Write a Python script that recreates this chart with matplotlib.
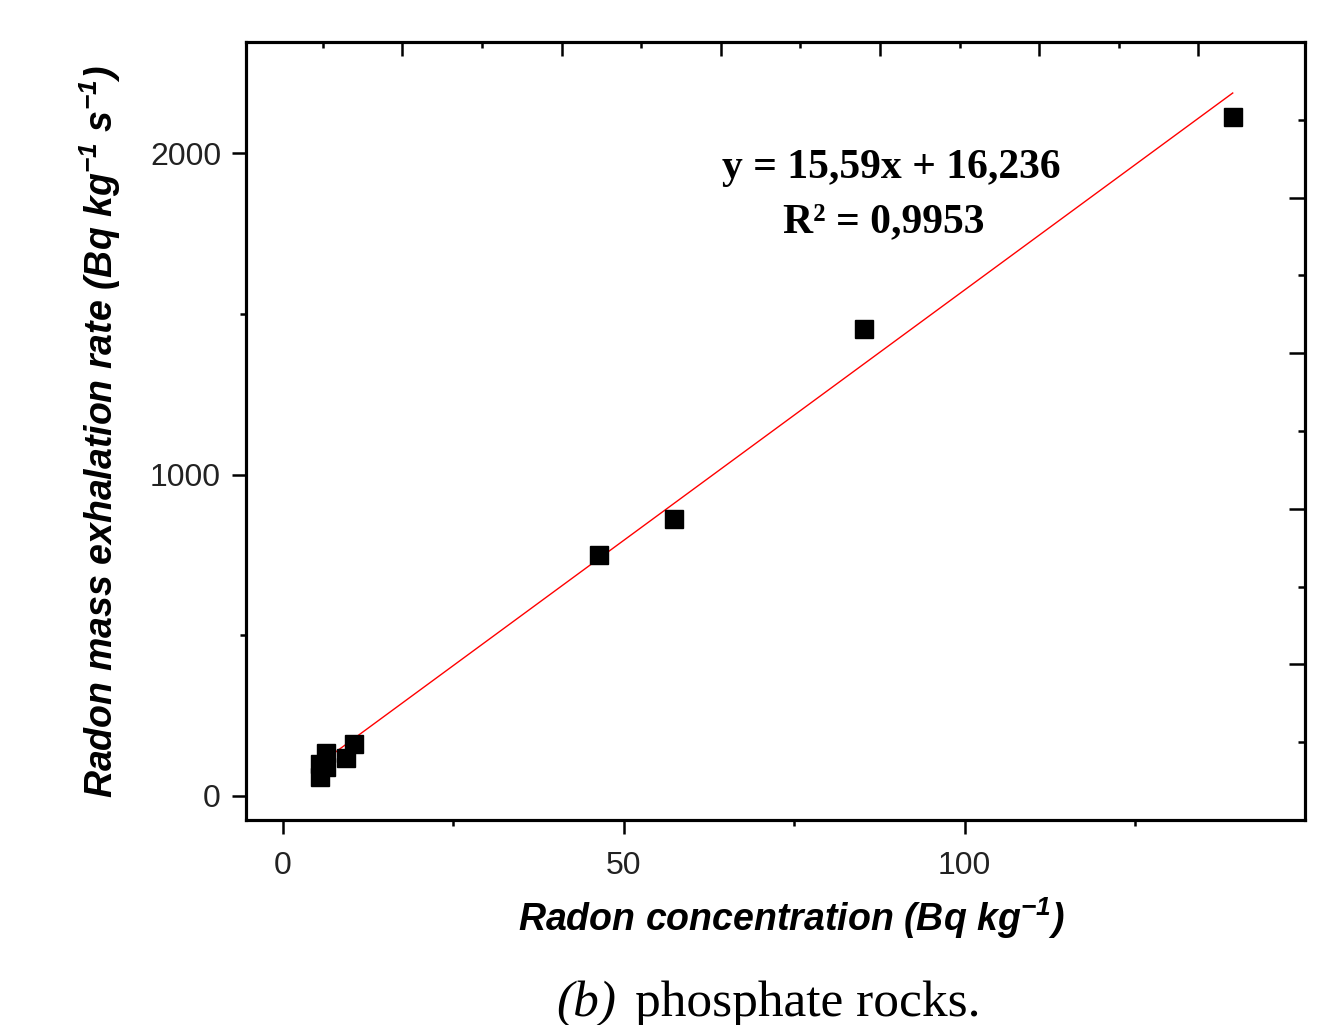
import numpy as np
import matplotlib
matplotlib.use("Agg")
import matplotlib.pyplot as plt

# data
conc = [5.4, 5.4, 6.3, 6.3, 9.3, 10.4, 46.3, 57.3, 85.3, 139.3]
exhal = [59, 100, 89, 133, 119, 162, 750, 862, 1453, 2113]
slope = 15.59
intercept = 16.236
eq_text = "y = 15,59x + 16,236"
r2_text = "R\u00b2 = 0,9953"
x_major = [0, 50, 100]
x_minor = [25, 75, 125]
y_major = [0, 1000, 2000]
y_minor = [500, 1500]

plt.rcParams["mathtext.fontset"] = "custom"
plt.rcParams["mathtext.rm"] = "Liberation Sans:bold:italic"
plt.rcParams["mathtext.it"] = "Liberation Sans:bold:italic"
plt.rcParams["mathtext.bf"] = "Liberation Sans:bold:italic"

W, H = 1343, 1025
fig = plt.figure(figsize=(W / 100, H / 100), dpi=100)
ax = fig.add_axes([246 / W, 1 - 820 / H, (1305 - 246) / W, (820 - 42) / H])

# fit line over data range
xf = np.array([min(conc), max(conc)])
ax.plot(xf, slope * xf + intercept, color="red", lw=1.0, zorder=2)
ax.plot(conc, exhal, "s", color="black", ms=12.5, mec="black", zorder=3)

ax.set_xlim(-5.4, 149.9)
ax.set_ylim(-74.7, 2346.7)

ax.set_xticks(x_major)
ax.set_xticks(x_minor, minor=True)
ax.set_yticks(y_major)
ax.set_yticks(y_minor, minor=True)
for s in ax.spines.values():
    s.set_linewidth(2.2)
ax.tick_params(which="major", direction="out", length=10, width=1.8,
               pad=8, colors="black")
ax.tick_params(which="minor", direction="out", length=4, width=1.8)
ax.tick_params(axis="x", which="major", pad=12)
for lab in ax.get_xticklabels() + ax.get_yticklabels():
    lab.set_fontfamily("Liberation Sans")
    lab.set_fontsize(23)
    lab.set_color("#222222")

# top and right axes carry their own tick marks (as in the source plot)
top_fr = [(76.7 + 79.6 * k) / 1059 for k in range(12)]
axt = ax.twiny()
axt.set_xlim(0, 1)
axt.set_xticks(top_fr[1::2])
axt.set_xticks(top_fr[0::2], minor=True)
axt.tick_params(which="major", direction="in", length=10, width=1.8, labeltop=False)
axt.tick_params(which="minor", direction="in", length=4.5, width=1.8)

right_fr = [k / 10 for k in range(1, 10)]
axr = ax.twinx()
axr.set_ylim(0, 1)
axr.set_yticks(right_fr[1::2])
axr.set_yticks(right_fr[0::2], minor=True)
axr.tick_params(which="major", direction="in", length=11.5, width=1.8, labelright=False)
axr.tick_params(which="minor", direction="in", length=5, width=1.8)
for a in (axt, axr):
    for s in a.spines.values():
        s.set_linewidth(2.2)

ax.text(891 / W, 1 - 168 / H, eq_text, transform=fig.transFigure,
        ha="center", va="center", fontsize=30, fontweight="bold",
        family="Liberation Serif")
ax.text(884 / W, 1 - 222 / H, r2_text, transform=fig.transFigure,
        ha="center", va="center", fontsize=30, fontweight="bold",
        family="Liberation Serif")

fig.text(791 / W, 1 - 918 / H, r"Radon concentration (Bq kg$^{-1}$)",
         ha="center", va="center", fontsize=27, fontweight="bold",
         style="italic", family="Liberation Sans")
fig.text(100 / W, 1 - 432 / H, r"Radon mass exhalation rate (Bq kg$^{-1}$ s$^{-1}$)",
         ha="center", va="center", rotation=90, fontsize=27, fontweight="bold",
         style="italic", family="Liberation Sans")

fig.text(556 / W, 1 - 1016 / H, "(b)", ha="left", va="baseline",
         fontsize=37, style="italic", family="Liberation Serif")
fig.text(635 / W, 1 - 1016 / H, "phosphate rocks.", ha="left", va="baseline",
         fontsize=37, family="Liberation Serif")

fig.savefig("out.png", dpi=100)
